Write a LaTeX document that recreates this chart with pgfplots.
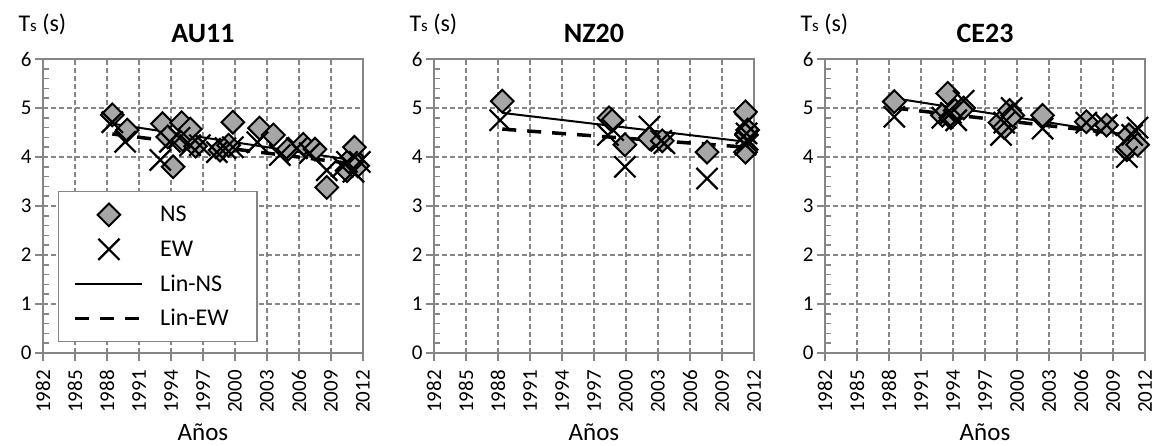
\documentclass[border=0pt]{standalone}
\usepackage{fontspec}
\setmainfont{Carlito}
\usepackage{pgfplots}
\pgfplotsset{compat=1.18}
\definecolor{axgray}{RGB}{134,134,134}
\definecolor{mkgray}{RGB}{166,166,166}

\pgfplotstableread{
x y
1988.5 4.86
1989.9 4.55
1993.2 4.68
1993.7 4.41
1994.2 3.80
1995.0 4.70
1995.1 4.35
1995.8 4.57
1996.3 4.22
1998.6 4.14
1999.4 4.24
1999.8 4.71
2002.3 4.59
2003.6 4.45
2005.0 4.16
2006.4 4.26
2007.5 4.16
2008.6 3.38
2010.5 3.72
2011.0 4.00
2011.2 4.20
2011.5 3.82
}\auNS
\pgfplotstableread{
x y
1988.5 4.71
1989.7 4.31
1993.0 3.94
1993.9 4.31
1994.8 4.39
1995.8 4.24
1996.7 4.24
1998.3 4.10
1999.1 4.18
1999.8 4.20
2002.1 4.30
2004.2 4.04
2005.8 4.18
2007.0 4.08
2008.6 3.73
2010.1 3.80
2010.5 3.90
2011.1 3.70
2011.7 3.90
}\auEW
\pgfplotstableread{
x y
1988.4 5.14
1998.4 4.80
1998.7 4.74
1999.9 4.25
2002.2 4.38
2003.4 4.33
2007.6 4.10
2011.2 4.92
2011.2 4.10
2011.3 4.45
2011.4 4.55
}\nzNS
\pgfplotstableread{
x y
1988.2 4.75
1998.3 4.45
1998.8 4.55
1999.9 3.80
2002.2 4.62
2003.3 4.33
2003.6 4.28
2007.6 3.56
2011.2 4.68
2011.3 4.48
2011.4 4.35
2011.2 4.25
}\nzEW
\pgfplotstableread{
x y
1988.5 5.13
1993.0 4.85
1993.5 5.30
1993.8 4.80
1994.2 4.95
1995.0 5.00
1998.4 4.70
1998.8 4.60
1999.3 4.95
1999.6 4.85
2002.4 4.85
2006.5 4.72
2008.4 4.65
2010.5 4.45
2010.3 4.15
2011.3 4.25
}\ceNS
\pgfplotstableread{
x y
1988.5 4.82
1993.0 4.80
1993.8 4.90
1994.3 4.75
1995.0 5.15
1998.5 4.45
1998.8 4.70
1999.5 5.00
2002.4 4.58
2006.5 4.70
2008.4 4.65
2010.3 4.00
2010.8 4.45
2011.3 4.60
}\ceEW

\pgfplotsset{
 panel/.style={
  scale only axis, width=320pt, height=294pt, anchor=south west,
  xmin=1982, xmax=2012, ymin=0, ymax=6,
  xtick={1982,1985,...,2012}, ytick={0,1,...,6},
  xticklabels={1982,1985,1988,1991,1994,1997,2000,2003,2006,2009,2012},
  minor x tick num=2, minor y tick num=4,
  tick pos=left,
  axis line style={axgray, line width=2pt},
  tick style={axgray, line width=1.5pt},
  tick align=outside, major tick length=8pt, minor tick length=6pt,
  minor x tick style={yshift=6pt}, minor y tick style={xshift=6pt},
  grid=major, major grid style={axgray, line width=1.2pt, dash pattern=on 5pt off 3pt},
  xticklabel shift=7pt,
  xticklabel style={rotate=90, anchor=east, font=\fontsize{21}{25}\selectfont, text=black, inner sep=2pt},
  yticklabel style={font=\fontsize{21}{25}\selectfont, text=black},
  /pgf/number format/assume math mode=true,
  clip=false,
 },
 nsmark/.style={only marks, mark=square*, mark size=8pt,
   mark options={rotate=45, fill=mkgray, draw=black, line width=2pt},
   legend image code/.code={\path[draw=none] (0pt,0pt) -- (67pt,0pt); \draw[##1] plot coordinates {(33.5pt,0pt)};}},
 ewmark/.style={only marks, mark=x, mark size=15pt,
   mark options={draw=black, line width=2.2pt},
   legend image code/.code={\path[draw=none] (0pt,0pt) -- (67pt,0pt); \draw[##1] plot coordinates {(33.5pt,0pt)};}},
 linns/.style={black, line width=2pt, no markers,
   legend image code/.code={\draw[##1] (0pt,0pt) -- (67pt,0pt);}},
 linew/.style={black, line width=3.5pt, no markers, dash pattern=on 14pt off 11pt,
   legend image code/.code={\draw[##1] (0pt,0pt) -- (67pt,0pt);}},
}
\newcommand{\tslabel}{\node[anchor=base west, font=\fontsize{24}{28}\selectfont] at (rel axis cs:-0.0875,1.095) {T{\fontsize{17}{20}\selectfont s} (s)};}
\newcommand{\anos}{\node[font=\fontsize{25}{30}\selectfont] at (rel axis cs:0.5,-0.269) {Años};}

\begin{document}
\begin{tikzpicture}
\useasboundingbox (0,0) rectangle (1160pt,445pt);

\begin{axis}[panel, at={(43pt,92pt)},
  legend style={at={(axis cs:1983.4,3.31)}, anchor=north west, draw=axgray, line width=1.5pt, fill=white,
    inner xsep=15pt, inner ysep=6pt, font=\fontsize{24}{27}\selectfont,
    nodes={minimum height=34.5pt, text width=80pt},
    /tikz/every odd column/.append style={column sep=14pt}},
  legend cell align=left]
\addplot[nsmark] table {\auNS};
\addlegendentry{NS}
\addplot[ewmark] table {\auEW};
\addlegendentry{EW}
\addplot[linns] coordinates {(1988.5,4.68) (2011.5,3.92)};
\addlegendentry{Lin-NS}
\addplot[linew] coordinates {(1988.5,4.47) (2011.5,3.85)};
\addlegendentry{Lin-EW}
\tslabel
\node[font=\bfseries\fontsize{28}{33}\selectfont] at (rel axis cs:0.5,1.088) {AU11};
\anos
\end{axis}

\begin{axis}[panel, at={(434pt,92pt)}]
\addplot[nsmark] table {\nzNS};
\addplot[ewmark] table {\nzEW};
\addplot[linns] coordinates {(1988.4,4.90) (2011.3,4.31)};
\addplot[linew] coordinates {(1988.4,4.57) (2011.3,4.20)};
\tslabel
\node[font=\bfseries\fontsize{28}{33}\selectfont] at (rel axis cs:0.5,1.088) {NZ20};
\anos
\end{axis}

\begin{axis}[panel, at={(825pt,92pt)}]
\addplot[nsmark] table {\ceNS};
\addplot[ewmark] table {\ceEW};
\addplot[linns] coordinates {(1988.5,5.20) (2011.3,4.42)};
\addplot[linew] coordinates {(1988.5,5.00) (2011.3,4.43)};
\tslabel
\node[font=\bfseries\fontsize{28}{33}\selectfont] at (rel axis cs:0.5,1.088) {CE23};
\anos
\end{axis}
\end{tikzpicture}
\end{document}
